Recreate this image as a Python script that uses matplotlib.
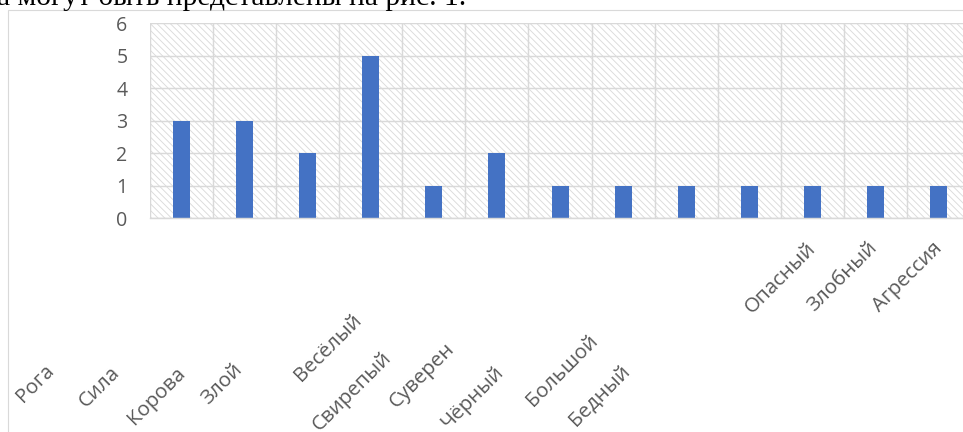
import matplotlib
matplotlib.use("Agg")
import matplotlib.pyplot as plt
from matplotlib.patches import Rectangle

# Data
categories = ["Рога", "Сила", "Корова", "Злой", "Весёлый", "Свирепый", "Суверен",
              "Чёрный", "Большой", "Бедный", "Опасный", "Злобный", "Агрессия"]
counts = [3, 3, 2, 5, 1, 2, 1, 1, 1, 1, 1, 1, 1]
y_ticks = [0, 1, 2, 3, 4, 5, 6]
caption = "а могут быть представлены на рис. 1."

W, H, DPI = 963, 432, 80


def pt(px):
    return px * 72.0 / DPI


def fx(px):
    return px / W


def fy(py):
    return 1 - py / H


plt.rcParams["font.family"] = ["Open Sans", "DejaVu Sans"]
plt.rcParams["hatch.linewidth"] = 0.8

fig = plt.figure(figsize=(W / DPI, H / DPI), dpi=DPI)
fig.patch.set_facecolor("white")

# outer chart frame (runs off the right and bottom edges)
fig.add_artist(Rectangle((fx(8), fy(470)), fx(1000), (470 - 10) / H,
                         transform=fig.transFigure, fill=False,
                         edgecolor="#d9d9d9", linewidth=1.0))

# text line from the page above the chart
fig.text(fx(-3), fy(5), caption, family="Liberation Serif", fontsize=pt(29.5),
         color="black", ha="left", va="baseline")

left, right, top, bottom = 149.6, 970.5, 23.3, 218.3
ax = fig.add_axes([fx(left), fy(bottom), fx(right - left), (bottom - top) / H])

n = len(categories)
x = list(range(n))

# hatched plot-area background
ax.add_patch(Rectangle((0, 0), 1, 1, transform=ax.transAxes, facecolor="white",
                       edgecolor="#dadada", linewidth=0, hatch="\\\\\\\\", zorder=0.1))

ax.bar(x, counts, width=0.27, color="#4472C4", zorder=2)

ax.set_xlim(-0.5, n - 0.5)
ax.set_ylim(0, 6)
ax.set_yticks(y_ticks)
ax.set_yticklabels([str(v) for v in y_ticks])
ax.tick_params(axis="y", length=0, pad=pt(22), labelsize=pt(19.5), labelcolor="#595959")
ax.tick_params(axis="x", length=0, labelbottom=False)

# category grid lines
ax.set_xticks([i - 0.5 for i in range(n + 1)], minor=True)
ax.grid(True, which="minor", axis="x", color="#d9d9d9", linewidth=1.3, zorder=0.5)
ax.grid(True, which="major", axis="y", color="#d9d9d9", linewidth=1.3, zorder=0.5)
ax.tick_params(axis="x", which="minor", length=0)
ax.set_axisbelow(True)
for s in ax.spines.values():
    s.set_visible(False)
ax.spines["bottom"].set_visible(True)
ax.spines["bottom"].set_color("#d9d9d9")
ax.spines["bottom"].set_linewidth(1.3)

# category labels, placed as laid out in the document
label_centers = [(35, 384), (100, 387), (157, 396), (222, 384), (328, 348),
                 (352, 391), (422, 375), (473, 398), (562, 371), (599, 395),
                 (781, 278), (843, 277), (908, 277)]
for name, (cx, cy) in zip(categories, label_centers):
    fig.text(fx(cx), fy(cy), name, rotation=45, rotation_mode="anchor",
             ha="center", va="center", fontsize=pt(20.5), color="#595959")

fig.savefig("out.png", dpi=DPI, facecolor="white")
